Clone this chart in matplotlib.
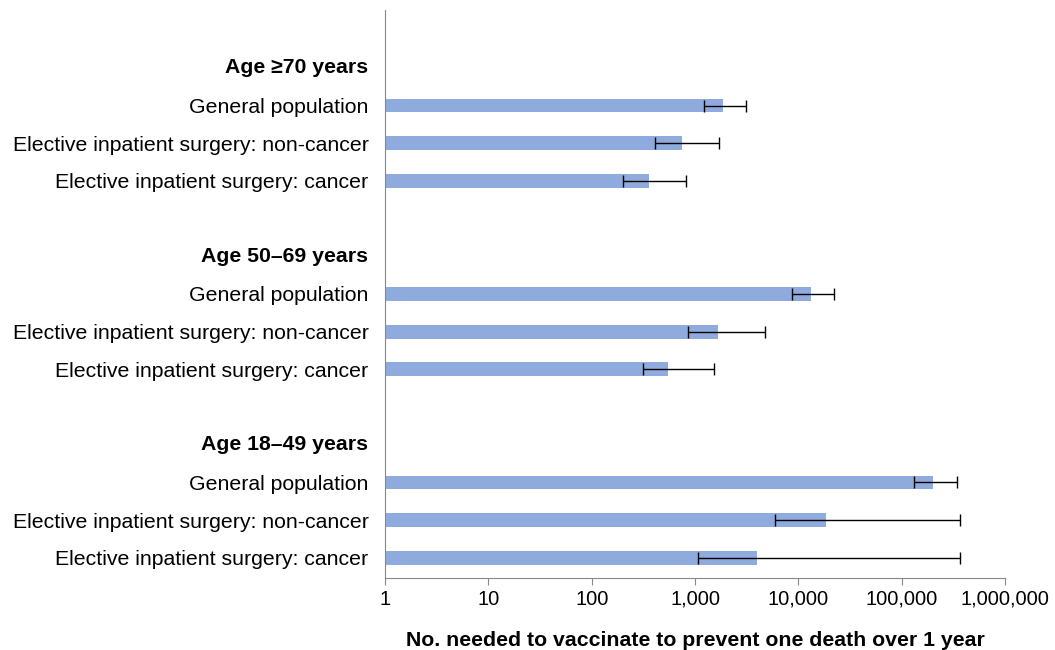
import numpy as np
import matplotlib.pyplot as plt
from matplotlib.ticker import FixedLocator, FuncFormatter

plt.rcParams['font.family'] = ['Liberation Sans', 'DejaVu Sans']

groups = ['Age \u226570 years', 'Age 50\u201369 years', 'Age 18\u201349 years']
rows = ['General population', 'Elective inpatient surgery: non-cancer', 'Elective inpatient surgery: cancer']

# NNV estimate, lower and upper limit per group (rows in order above)
nnv = [[1870, 750, 360], [13300, 1670, 550], [200000, 18600, 4000]]
lower = [[1230, 410, 200], [8700, 860, 310], [132000, 6000, 1070]]
upper = [[3100, 1700, 820], [22000, 4800, 1520], [344000, 370000, 370000]]

fig = plt.figure(figsize=(10.55, 6.5), dpi=100)
ax = fig.add_axes([0.365, 0.111, 0.5877, 0.874])

ylabels, ypos = [], []
for g in range(3):
    base = g * 5
    ax.text(-0.027, base, groups[g], transform=ax.get_yaxis_transform(),
            ha='right', va='center', fontsize=15.3, fontweight='bold')
    for r in range(3):
        y = base + 1 + r
        ypos.append(y)
        ylabels.append(rows[r])
        ax.barh(y, nnv[g][r], left=1, height=0.37, color='#8faadc')
        ax.errorbar(nnv[g][r], y,
                    xerr=[[nnv[g][r] - lower[g][r]], [upper[g][r] - nnv[g][r]]],
                    fmt='none', ecolor='black', elinewidth=1, capsize=4)

ax.set_xscale('log')
ax.set_xlim(1, 1e6)
ax.set_ylim(13.53, -1.54)
ax.set_yticks(ypos)
ax.set_yticklabels(ylabels, fontsize=15.3)
ax.tick_params(axis='y', length=0, pad=12)
ax.xaxis.set_major_locator(FixedLocator([10 ** i for i in range(7)]))
ax.xaxis.set_minor_locator(FixedLocator([]))
ax.xaxis.set_major_formatter(FuncFormatter(lambda v, p: f'{int(round(v)):,}'))
ax.tick_params(axis='x', labelsize=14.5, direction='out', length=5, color='#888888')
for s in ['top', 'right']:
    ax.spines[s].set_visible(False)
ax.spines['left'].set_color('#888888')
ax.spines['bottom'].set_color('#888888')
ax.set_xlabel('No. needed to vaccinate to prevent one death over 1 year',
              fontsize=15.3, fontweight='bold', labelpad=16)

fig.savefig('out.png')
